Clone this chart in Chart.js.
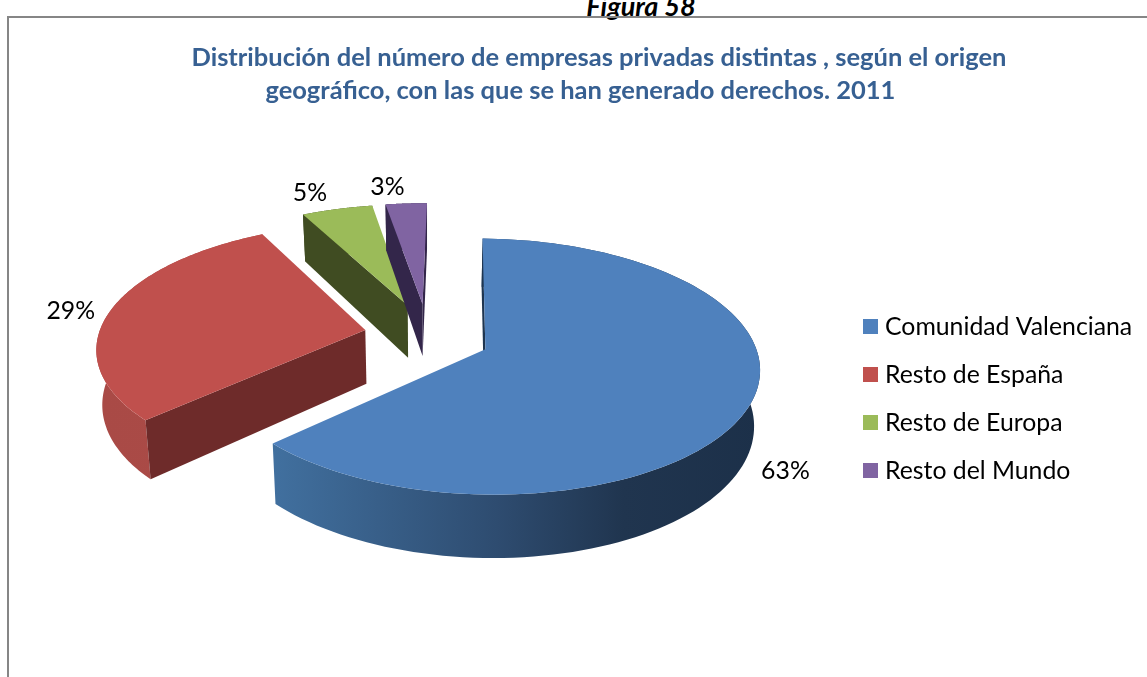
<!DOCTYPE html>
<html>
<head>
<meta charset="utf-8">
<title>Figura 58</title>
<script src="https://cdn.jsdelivr.net/npm/chart.js@4/dist/chart.umd.js"></script>
<style>
  html, body { margin: 0; padding: 0; background: #fff; overflow: hidden; }
  #page { position: relative; width: 1147px; height: 677px; overflow: hidden; }
  #frame { position: absolute; left: 7px; top: 16px; width: 1160px; height: 700px; border: 2px solid #868686; box-sizing: border-box; }
  #figura { position: absolute; left: 0; width: 1282px; text-align: center; top: -11px; font: italic bold 27px Lato, sans-serif; color: #000; }
  canvas { position: absolute; left: 0; top: 0; }
</style>
</head>
<body>
<div id="page">
  <div id="figura">Figura 58</div>
  <div id="frame"></div>
  <canvas id="pie" width="1147" height="677"></canvas>
</div>
<script>
// the second title line has trailing spaces: it sits left of the first one in the original
const TITLE_LINES = [
  "Distribución del número de empresas privadas distintas , según el origen",
  "geográfico, con las que se han generado derechos. 2011      ",
];
const CATEGORIES = ["Comunidad Valenciana", "Resto de España", "Resto de Europa", "Resto del Mundo"];
const SHARES = [62.8, 29.3, 5, 2.9];
const TOP_COLORS = ["#4F81BD", "#C0504D", "#9BBB59", "#8064A2"];
const CUT_COLORS = ["#1E3550", "#6E2B2A", "#404C22", "#33264A"];
const RIM_STOPS = [
  [[0, "#41709F"], [0.46, "#2E4C70"], [0.72, "#20354F"], [1, "#1C3049"]],
  [[0, "#A94A46"], [1, "#AB4B47"]],
  [[0, "#404C22"], [1, "#404C22"]],
  [[0, "#33264A"], [1, "#33264A"]],
];

const FONT = "Lato, sans-serif";

// fake 3D: the pie lies on a tilted plane, seen with a bit of perspective
const VIEW = {
  shiftX: -172,     // pie sits left of the title centre
  squash: 0.457,
  perspective: 0.0005,
  depth: 54,
  bottomShrink: 0.982,
};
const EXPLODE_X = 63;
const EXPLODE_Y = 72;

function project(arc, u, v, bottom) {
  const w = 1 - VIEW.perspective * v;
  const s = bottom ? VIEW.bottomShrink : 1;
  return {
    x: arc.x + VIEW.shiftX + (s * u) / w,
    y: arc.y + (VIEW.squash * v + (bottom ? VIEW.depth : 0)) / w,
  };
}

function slicePoint(arc, angle, radius, bottom) {
  const mid = (arc.startAngle + arc.endAngle) / 2;
  const u = EXPLODE_X * Math.cos(mid) + radius * Math.cos(angle);
  const v = EXPLODE_Y * Math.sin(mid) + radius * Math.sin(angle);
  return project(arc, u, v, bottom);
}

function tracePolygon(ctx, points) {
  ctx.beginPath();
  points.forEach((p, i) => (i ? ctx.lineTo(p.x, p.y) : ctx.moveTo(p.x, p.y)));
  ctx.closePath();
}

function arcPoints(arc, bottom) {
  const steps = 120;
  const points = [];
  for (let i = 0; i <= steps; i++) {
    const a = arc.startAngle + ((arc.endAngle - arc.startAngle) * i) / steps;
    points.push(slicePoint(arc, a, arc.outerRadius, bottom));
  }
  return points;
}

function drawCutFace(ctx, arc, angle, color) {
  const a = slicePoint(arc, angle, 0, false);
  const b = slicePoint(arc, angle, arc.outerRadius, false);
  const c = slicePoint(arc, angle, arc.outerRadius, true);
  const d = slicePoint(arc, angle, 0, true);
  tracePolygon(ctx, [a, b, c, d]);
  ctx.fillStyle = color;
  ctx.fill();
}

function drawSlice(ctx, arc, i) {
  const top = arcPoints(arc, false);
  const bottom = arcPoints(arc, true);

  // rim first, the top face covers whatever faces away
  const xs = top.map((p) => p.x);
  const rim = ctx.createLinearGradient(Math.min(...xs), 0, Math.max(...xs), 0);
  RIM_STOPS[i].forEach(([at, color]) => rim.addColorStop(at, color));
  tracePolygon(ctx, top.concat(bottom.slice().reverse()));
  ctx.fillStyle = rim;
  ctx.fill();

  // only the cut faces turned to the viewer
  const apex = slicePoint(arc, 0, 0, false);
  const startOuter = slicePoint(arc, arc.startAngle, arc.outerRadius, false);
  const endOuter = slicePoint(arc, arc.endAngle, arc.outerRadius, false);
  if (startOuter.x <= apex.x) drawCutFace(ctx, arc, arc.startAngle, CUT_COLORS[i]);
  if (endOuter.x >= apex.x) drawCutFace(ctx, arc, arc.endAngle, CUT_COLORS[i]);

  tracePolygon(ctx, [apex].concat(top));
  ctx.fillStyle = TOP_COLORS[i];
  ctx.fill();
}

function drawValueLabel(ctx, arc, i) {
  const mid = (arc.startAngle + arc.endAngle) / 2;
  const p = slicePoint(arc, mid, arc.outerRadius, false);
  const dirX = Math.cos(mid);
  const dirY = Math.sin(mid);
  const x = p.x + 38 * dirX + 16 * Math.min(dirY, 0);
  const y = p.y + 5 + 22 * dirY + (dirY > 0 ? VIEW.depth : 0);
  ctx.fillStyle = "#000";
  ctx.font = `24.8px ${FONT}`;
  ctx.textAlign = "center";
  ctx.textBaseline = "middle";
  ctx.fillText(`${Math.round(SHARES[i])}%`, x, y);
}

function drawLegend(ctx) {
  ctx.font = `24.8px ${FONT}`;
  ctx.textAlign = "left";
  ctx.textBaseline = "middle";
  CATEGORIES.forEach((name, i) => {
    const y = 327 + i * 48;
    ctx.fillStyle = TOP_COLORS[i];
    ctx.fillRect(863, y - 8, 15, 15);
    ctx.fillStyle = "#000";
    ctx.fillText(name, 885, y);
  });
}

const pie3d = {
  id: "pie3d",
  beforeDatasetsDraw(chart) {
    const ctx = chart.ctx;
    const arcs = chart.getDatasetMeta(0).data;
    ctx.save();
    arcs.forEach((arc, i) => drawSlice(ctx, arc, i));
    arcs.forEach((arc, i) => drawValueLabel(ctx, arc, i));
    drawLegend(ctx);
    ctx.restore();
    return false;
  },
};

new Chart(document.getElementById("pie"), {
  type: "pie",
  data: {
    labels: CATEGORIES,
    datasets: [{
      data: SHARES,
      backgroundColor: TOP_COLORS,
      borderWidth: 0,
      radius: 267,
    }],
  },
  options: {
    responsive: false,
    animation: false,
    rotation: 1,
    layout: { padding: { left: 51, bottom: 122 } },
    plugins: {
      legend: { display: false },
      tooltip: { enabled: false },
      title: {
        display: true,
        text: TITLE_LINES,
        color: "#376092",
        font: { family: FONT, size: 25.5, weight: "bold", lineHeight: 1.3 },
        padding: { top: 41, bottom: 9 },
      },
    },
  },
  plugins: [pie3d],
});
</script>
</body>
</html>
